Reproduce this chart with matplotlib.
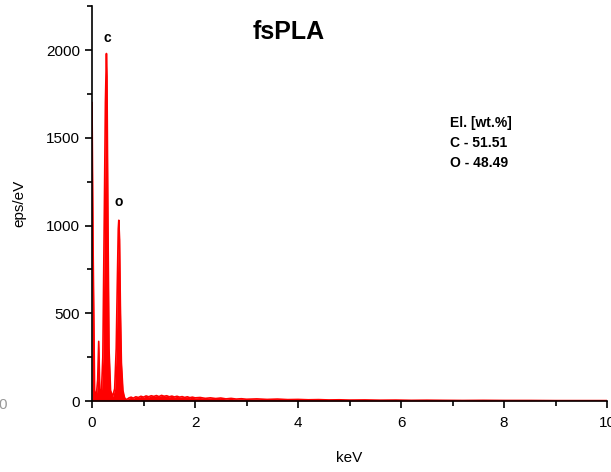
import matplotlib.pyplot as plt
import numpy as np

plt.rcParams['font.family'] = ['Liberation Sans', 'DejaVu Sans']

# Espectro EDS (keV, cuentas)
kev_peaks = [0.0, 0.02, 0.05, 0.08, 0.11, 0.13, 0.15, 0.18, 0.21, 0.24, 0.26,
             0.28, 0.29, 0.31, 0.33, 0.36, 0.40, 0.44, 0.47, 0.49, 0.51, 0.52,
             0.535, 0.55, 0.57, 0.60, 0.63, 0.66, 0.69]
cps_peaks = [1700, 900, 60, 20, 120, 340, 70, 30, 250, 1100, 1700,
             1980, 1850, 1000, 300, 60, 25, 70, 300, 650, 980, 1030,
             920, 550, 220, 60, 20, 8, 12]

kev_bg = [0.72, 0.76, 0.8, 0.85, 0.9, 0.95, 1.0, 1.05, 1.1, 1.15, 1.2, 1.25,
          1.3, 1.35, 1.4, 1.45, 1.5, 1.55, 1.6, 1.65, 1.7, 1.75, 1.8, 1.85,
          1.9, 1.95, 2.0, 2.1, 2.2, 2.3, 2.4, 2.5, 2.6, 2.7, 2.8, 2.9, 3.0,
          3.2, 3.4, 3.6, 3.8, 4.0, 4.2, 4.4, 4.6, 4.8, 5.0, 5.3, 5.6, 5.9,
          6.2, 6.5, 6.8, 7.2, 7.6, 8.0, 8.5, 9.0, 9.5, 10.0]
cps_bg = [18, 22, 16, 24, 20, 27, 22, 29, 24, 30, 26, 31,
          25, 32, 27, 30, 24, 28, 23, 27, 22, 25, 20, 24,
          19, 22, 18, 20, 15, 18, 14, 17, 12, 15, 11, 13, 10,
          12, 9, 11, 8, 9, 7, 8, 6, 7, 5, 6, 4, 5,
          3, 4, 3, 2, 3, 2, 2, 1, 1, 1]

kev = np.array(kev_peaks + kev_bg)
cps = np.array(cps_peaks + cps_bg)

fig = plt.figure(figsize=(6.11, 4.72), dpi=100)
ax = fig.add_axes([0.1506, 0.1504, 0.8429, 0.8366])

ax.fill_between(kev, cps, 0, color='#ff0000', lw=0)
ax.plot(kev, cps, color='#ff0000', lw=1.2)
ax.axhline(0, color='#ee0000', lw=2.5, zorder=1)

ax.set_xlim(0, 10)
ax.set_ylim(0, 2250)
ax.set_xticks([0, 2, 4, 6, 8, 10])
ax.set_xticks([1, 3, 5, 7, 9], minor=True)
ax.set_yticks([0, 500, 1000, 1500, 2000])
ax.set_yticks([250, 750, 1250, 1750, 2250], minor=True)
ax.spines['top'].set_visible(False)
ax.spines['right'].set_visible(False)
ax.spines['left'].set_linewidth(1.2)
ax.spines['bottom'].set_linewidth(1.2)
ax.tick_params(which='major', direction='out', length=5, width=1.2, labelsize=11)
ax.tick_params(which='minor', direction='out', length=3.5, width=1.2)
ax.tick_params(axis='x', pad=6)

ax.set_xlabel('keV', fontsize=11, labelpad=15)
ax.set_ylabel('eps/eV', fontsize=11, labelpad=14)

ax.text(0.29, 2070, 'c', fontsize=10, fontweight='bold', ha='center', va='center')
ax.text(0.52, 1135, 'o', fontsize=10, fontweight='bold', ha='center', va='center')
fig.text(0.472, 0.932, 'fsPLA', fontsize=18, fontweight='bold', ha='center', va='center')

ax.text(6.95, 1585, 'El. [wt.%]', fontsize=10, fontweight='bold', va='center')
ax.text(6.95, 1470, 'C - 51.51', fontsize=10, fontweight='bold', va='center')
ax.text(6.95, 1355, 'O - 48.49', fontsize=10, fontweight='bold', va='center')

fig.text(0.004, 0.142, '0', fontsize=11, color='#999999', ha='center', va='center')

plt.savefig('out.png', dpi=100)
